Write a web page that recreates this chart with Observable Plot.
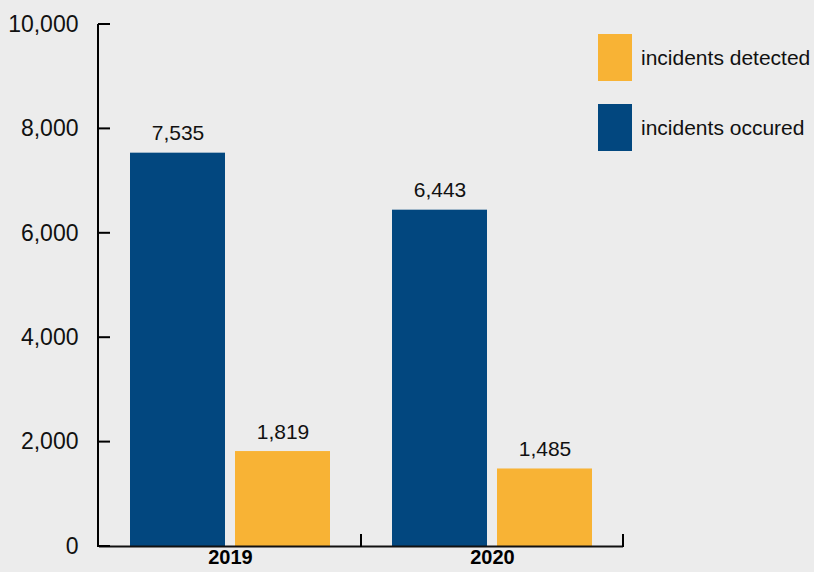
<!DOCTYPE html>
<html>
<head>
<meta charset="utf-8">
<script src="https://cdn.jsdelivr.net/npm/d3@7"></script>
<script src="https://cdn.jsdelivr.net/npm/@observablehq/plot@0.6"></script>
<style>
  body { margin: 0; background: #ececec; font-family: "Liberation Sans", Arial, sans-serif; }
  #chart { position: relative; width: 814px; height: 572px; }
  .legend { position: absolute; left: 598px; top: 34px; }
  .item { display: flex; align-items: center; height: 47px; margin-bottom: 23px; }
  .swatch { width: 34px; height: 47px; margin-right: 9px; }
  .item span { font-size: 21px; color: #111; white-space: nowrap; }
</style>
</head>
<body>
<div id="chart"></div>
<script>
// Reported incidents per year
const years = ["2019", "2020"];
const seriesNames = ["incidents occured", "incidents detected"];
const occurred = [7535, 6443];
const detected = [1819, 1485];
const yTicks = [0, 2000, 4000, 6000, 8000, 10000];
const colors = ["#02477f", "#f8b335"];

const rows = years.flatMap((yr, i) => [
  {year: yr, series: seriesNames[0], value: occurred[i]},
  {year: yr, series: seriesNames[1], value: detected[i]}
]);

const fmt = d3.format(",");

const chart = Plot.plot({
  width: 814,
  height: 572,
  marginLeft: 98,
  marginRight: 191,
  marginTop: 24,
  marginBottom: 26,
  style: {background: "#ececec", fontFamily: "'Liberation Sans', Arial, sans-serif",
    fontSize: "21px", color: "#111"},
  fx: {domain: years, padding: 0, label: null},
  x: {domain: seriesNames, paddingInner: 0.095, paddingOuter: 0.295, axis: null},
  y: {domain: [0, 10000], axis: null},
  color: {domain: seriesNames, range: colors},
  marks: [
    Plot.barY(rows, {fx: "year", x: "series", y: "value", fill: "series"}),
    Plot.text(rows, {fx: "year", x: "series", y: "value", text: d => fmt(d.value),
      dy: -13, lineAnchor: "bottom", fontSize: 21, fill: "#111"}),
    Plot.axisY(yTicks, {anchor: "left", tickSize: 0, tickPadding: 21, tickFormat: fmt,
      fontSize: 23, label: null, fill: "#111"}),
    Plot.axisFx({anchor: "bottom", tickSize: 0, tickPadding: 3, fontSize: 20,
      fontWeight: "bold", label: null, fill: "#000"}),
    Plot.ruleY([0], {strokeWidth: 2})
  ]
});

document.getElementById("chart").append(chart);

// Axis lines and tick marks drawn from the plot's own scales
const svg = d3.select(chart);
const fxS = chart.scale("fx");
const yS = chart.scale("y");
const left = fxS.range[0];
const g = svg.append("g").attr("stroke", "#000").attr("stroke-width", 2).attr("fill", "none");
g.append("line")
  .attr("x1", left).attr("x2", left)
  .attr("y1", yS.apply(10000)).attr("y2", yS.apply(0) + 1);
for (const t of yTicks) {
  g.append("line")
    .attr("x1", left).attr("x2", left + 12)
    .attr("y1", yS.apply(t)).attr("y2", yS.apply(t));
}
for (const yr of years) {
  const xr = fxS.apply(yr) + fxS.bandwidth;
  g.append("line")
    .attr("x1", xr).attr("x2", xr)
    .attr("y1", yS.apply(0) + 1).attr("y2", yS.apply(0) - 12);
}

// Legend
const legend = d3.select("#chart").append("div").attr("class", "legend");
[seriesNames[1], seriesNames[0]].forEach(name => {
  const item = legend.append("div").attr("class", "item");
  item.append("div").attr("class", "swatch")
    .style("background", colors[seriesNames.indexOf(name)]);
  item.append("span").text(name);
});
</script>
</body>
</html>
